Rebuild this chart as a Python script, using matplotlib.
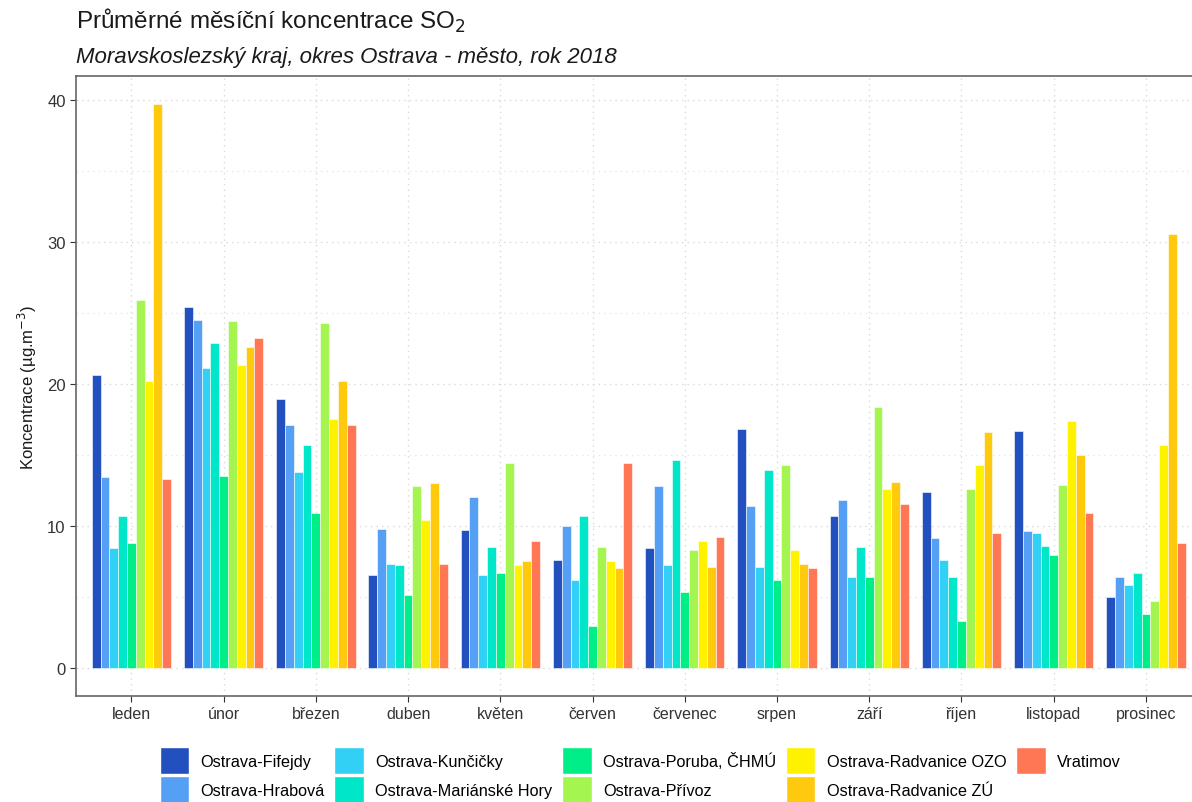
import numpy as np
import matplotlib
matplotlib.use("Agg")
import matplotlib.pyplot as plt
from matplotlib.patches import Patch

plt.rcParams['font.family'] = ['Liberation Sans', 'DejaVu Sans']

months = ["leden", "únor", "březen", "duben", "květen", "červen",
          "červenec", "srpen", "září", "říjen", "listopad", "prosinec"]

stations = ["Ostrava-Fifejdy", "Ostrava-Hrabová", "Ostrava-Kunčičky",
            "Ostrava-Mariánské Hory", "Ostrava-Poruba, ČHMÚ", "Ostrava-Přívoz",
            "Ostrava-Radvanice OZO", "Ostrava-Radvanice ZÚ", "Vratimov"]

colors = ["#2350BF", "#55A0F5", "#33D0F5", "#00E6C8", "#00EE88",
          "#A5F550", "#FFF200", "#FFC90E", "#FF7755"]

# hodnoty (µg/m3), jeden seznam = jedna stanice, po měsících
fifejdy    = [20.6, 25.4, 18.9, 6.5, 9.7, 7.6, 8.4, 16.8, 10.7, 12.4, 16.7, 5.0]
hrabova    = [13.4, 24.5, 17.1, 9.8, 12.0, 10.0, 12.8, 11.4, 11.8, 9.1, 9.6, 6.4]
kuncicky   = [8.4, 21.1, 13.8, 7.3, 6.5, 6.2, 7.2, 7.1, 6.4, 7.6, 9.5, 5.8]
marianske  = [10.7, 22.9, 15.7, 7.2, 8.5, 10.7, 14.6, 13.9, 8.5, 6.4, 8.6, 6.7]
poruba     = [8.8, 13.5, 10.9, 5.1, 6.7, 2.9, 5.3, 6.2, 6.4, 3.3, 7.9, 3.8]
privoz     = [25.9, 24.4, 24.3, 12.8, 14.4, 8.5, 8.3, 14.3, 18.4, 12.6, 12.9, 4.7]
radv_ozo   = [20.2, 21.3, 17.5, 10.4, 7.2, 7.5, 8.9, 8.3, 12.6, 14.3, 17.4, 15.7]
radv_zu    = [39.7, 22.6, 20.2, 13.0, 7.5, 7.0, 7.1, 7.3, 13.1, 16.6, 15.0, 30.6]
vratimov   = [13.3, 23.2, 17.1, 7.3, 8.9, 14.4, 9.2, 7.0, 11.5, 9.5, 10.9, 8.8]

values = [fifejdy, hrabova, kuncicky, marianske, poruba, privoz,
          radv_ozo, radv_zu, vratimov]

fig = plt.figure(figsize=(11.92, 8.03), dpi=100)
ax = fig.add_axes([0.0638, 0.1324, 0.944, 0.7713])

x = np.arange(len(months))
n = len(stations)
group_w = 0.86
bw = group_w / n

for i, (name, vals) in enumerate(zip(stations, values)):
    offs = -group_w / 2 + bw * (i + 0.5)
    ax.bar(x + offs, vals, width=bw, color=colors[i], edgecolor="white",
           linewidth=0.4, label=name, zorder=3)

ax.set_xlim(-0.6, 11.6)
ax.set_ylim(-1.985, 41.685)
ax.set_xticks(x)
ax.set_xticklabels(months, fontsize=11.5, color="#333333")
ax.set_yticks([0, 10, 20, 30, 40])
ax.set_yticks([5, 15, 25, 35], minor=True)
ax.tick_params(axis="y", labelsize=12, colors="#333333", length=4)
ax.tick_params(axis="x", length=4, colors="#333333")
ax.tick_params(axis="y", which="minor", length=0)

ax.grid(True, which="major", axis="both", linestyle=(0, (1, 3)),
        color="#d9d9d9", linewidth=1.0, zorder=0)
ax.grid(True, which="minor", axis="y", linestyle=(0, (1, 3)),
        color="#e6e6e6", linewidth=1.0, zorder=0)
ax.set_axisbelow(True)

for sp in ax.spines.values():
    sp.set_color("#666666")
    sp.set_linewidth(1.2)
ax.spines["right"].set_visible(False)

ax.set_ylabel("Koncentrace (µg.m$^{-3}$)", fontsize=12, color="#1a1a1a", labelpad=6)

fig.text(76 / 1192, 1 - 21 / 803, "Průměrné měsíční koncentrace SO$_2$",
         fontsize=17.5, color="#1a1a1a", va="center", ha="left")
fig.text(76 / 1192, 1 - 58 / 803, "Moravskoslezský kraj, okres Ostrava - město, rok 2018",
         fontsize=16, style="italic", color="#1a1a1a", va="center", ha="left")

handles = [Patch(facecolor=c, edgecolor="white", label=s) for c, s in zip(colors, stations)]
fig.legend(handles=handles, ncol=5, loc="upper left", bbox_to_anchor=(153 / 1192, 1 - 741 / 803),
           frameon=False, fontsize=11.7, handlelength=1.8, handleheight=2.27,
           handletextpad=0.72, columnspacing=0.6, labelspacing=0.12, borderaxespad=0)

fig.savefig("out.png", dpi=100)
